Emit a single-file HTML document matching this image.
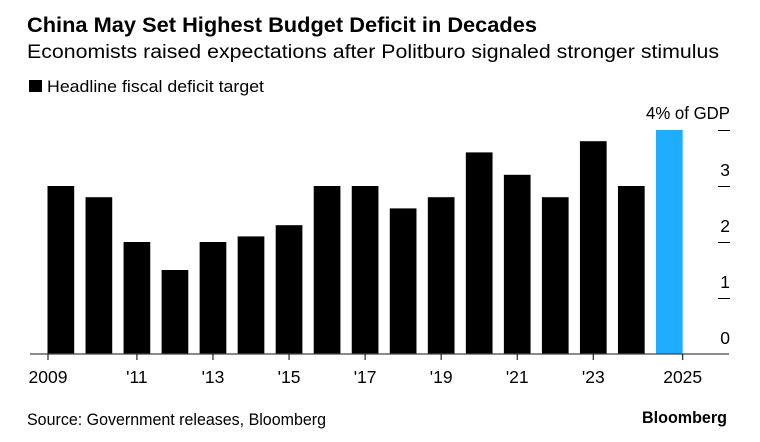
<!DOCTYPE html>
<html lang="en">
<head>
<meta charset="utf-8">
<title>China May Set Highest Budget Deficit in Decades</title>
<style>
html,body{margin:0;padding:0;background:#fff;width:760px;height:442px;overflow:hidden}
svg{display:block}
text{font-family:"Liberation Sans",sans-serif;fill:#000}
</style>
</head>
<body>
<svg id="chart" xmlns="http://www.w3.org/2000/svg" width="760" height="442" viewBox="0 0 760 442">
  <rect width="760" height="442" fill="#fff"/>
  <text x="27" y="32" font-size="21" font-weight="700" textLength="510" lengthAdjust="spacingAndGlyphs">China May Set Highest Budget Deficit in Decades</text>
  <text x="27" y="58" font-size="19" textLength="692" lengthAdjust="spacingAndGlyphs">Economists raised expectations after Politburo signaled stronger stimulus</text>
  <rect x="29" y="80" width="13" height="12" fill="#000"/>
  <text x="47" y="92" font-size="16.5" textLength="217" lengthAdjust="spacingAndGlyphs">Headline fiscal deficit target</text>
  <g id="bars"></g>
  <g id="x-axis"></g>
  <g id="y-axis"></g>
  <text x="27" y="425" font-size="16.5" textLength="299" lengthAdjust="spacingAndGlyphs">Source: Government releases, Bloomberg</text>
  <text x="642" y="423" font-size="17" font-weight="700" textLength="85" lengthAdjust="spacingAndGlyphs">Bloomberg</text>
</svg>
<script>
const years = [2009,2010,2011,2012,2013,2014,2015,2016,2017,2018,2019,2020,2021,2022,2023,2024,2025];
const deficitTargets = [3,2.8,2,1.5,2,2.1,2.3,3,3,2.6,2.8,3.6,3.2,2.8,3.8,3,4];
const xTickYears = [2009,2011,2013,2015,2017,2019,2021,2023,2025];
const xTickLabels = ["2009","'11","'13","'15","'17","'19","'21","'23","2025"];
const yTickValues = [0,1,2,3,4];
const yTickLabels = ["0","1","2","3",""];
const highlightLabel = "4% of GDP";

const NS = 'http://www.w3.org/2000/svg';
const firstYear = years[0];
const lastYear = years[years.length - 1];
const plotLeft = 47.5;
const plotRight = 682.7;
const barWidth = 26.7;
const baseY = 354;
const unitY = 56;
const axisRight = 729;
const labelSize = 17.5;

function xBand(year) {
  const step = (plotRight - barWidth - plotLeft) / (lastYear - firstYear);
  return plotLeft + (year - firstYear) * step;
}
function xTick(year) {
  if (year === firstYear) return plotLeft + 0.5;
  if (year === lastYear) return plotRight;
  return xBand(year) + barWidth / 2;
}
function yScale(value) {
  return baseY - value * unitY;
}
function make(tag, attrs, parent) {
  const el = document.createElementNS(NS, tag);
  for (const key in attrs) el.setAttribute(key, attrs[key]);
  parent.appendChild(el);
  return el;
}

const barsGroup = document.getElementById('bars');
const xGroup = document.getElementById('x-axis');
const yGroup = document.getElementById('y-axis');

years.forEach(function (year, i) {
  const top = yScale(deficitTargets[i]);
  const bar = make('rect', {
    x: xBand(year), y: top, width: barWidth, height: baseY - top,
    fill: year === lastYear ? '#1fadff' : '#000'
  }, barsGroup);
  
  
});

const axisLine = make('line', {x1: 30, x2: axisRight, y1: baseY, y2: baseY, stroke: '#444', 'stroke-width': 1.2}, xGroup);



xTickYears.forEach(function (year, i) {
  const x = xTick(year);
  const tick = make('line', {x1: x, x2: x, y1: baseY, y2: baseY + 6, stroke: '#111', 'stroke-width': 1.1}, xGroup);
  
  
  const label = make('text', {x: x, y: 383, 'font-size': labelSize, 'text-anchor': 'middle'}, xGroup);
  
  
  label.textContent = xTickLabels[i];
});

yTickValues.forEach(function (value, i) {
  const y = yScale(value);
  if (value > 0) {
    const tick = make('line', {x1: 718, x2: 730, y1: y + 0.5, y2: y + 0.5, stroke: '#000', 'stroke-width': 1}, yGroup);
    
    
  }
  if (yTickLabels[i]) {
    const label = make('text', {x: 730, y: y - 10, 'font-size': labelSize, 'text-anchor': 'end'}, yGroup);
    
    
    label.textContent = yTickLabels[i];
  }
});

const topLabel = make('text', {x: 730, y: 119, 'font-size': labelSize, 'text-anchor': 'end', textLength: 84, lengthAdjust: 'spacingAndGlyphs'}, yGroup);


topLabel.textContent = highlightLabel;
</script>
</body>
</html>
